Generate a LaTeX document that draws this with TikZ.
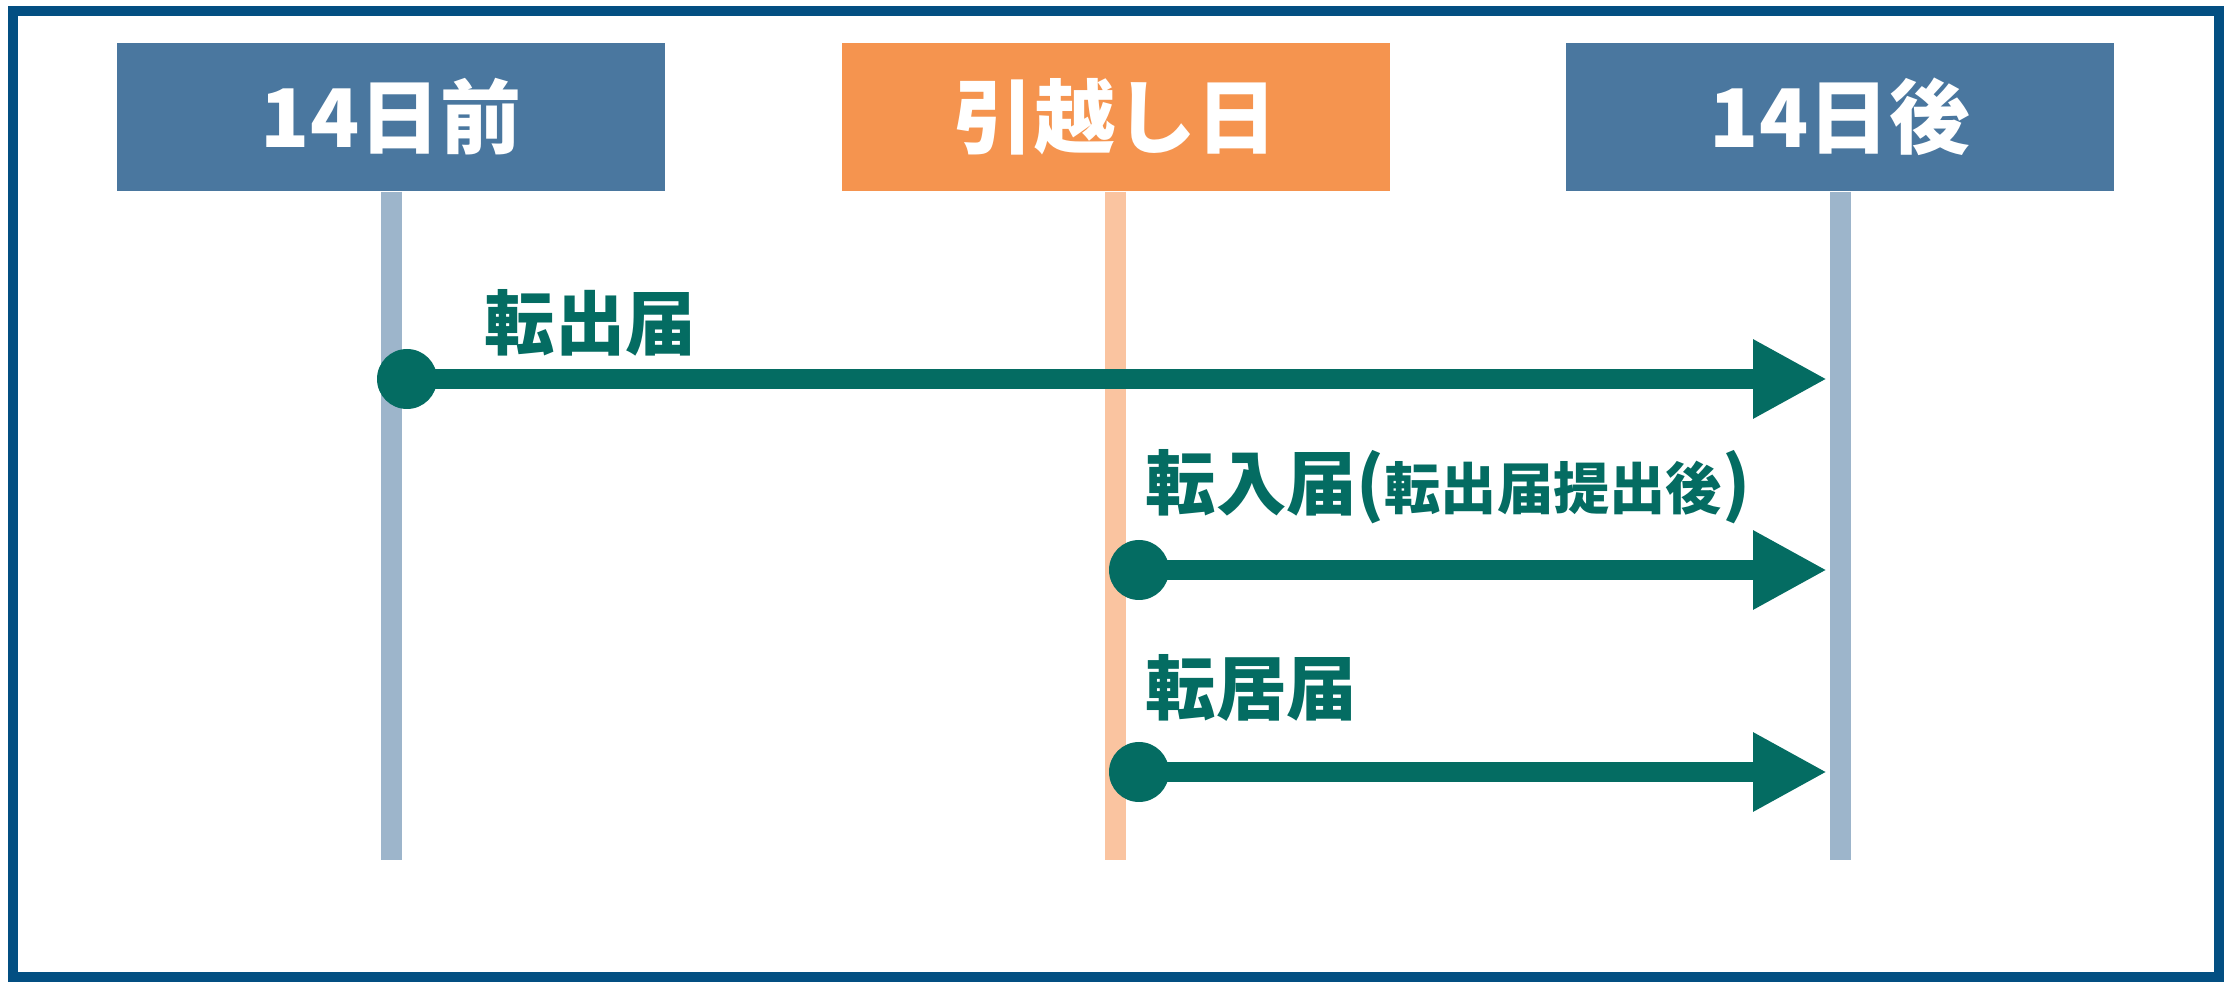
\documentclass[tikz,border=0pt]{standalone}
\usepackage{fontspec}
\usepackage{xcolor}
\usepackage{tikz}
\usetikzlibrary{arrows.meta}
\newfontfamily\jpfont{Noto Sans CJK JP}
\definecolor{frameblue}{HTML}{034F82}
\definecolor{headblue}{HTML}{4A779F}
\definecolor{headorange}{HTML}{F5944F}
\definecolor{lineblue}{HTML}{9DB5CB}
\definecolor{lineorange}{HTML}{FAC4A0}
\definecolor{docteal}{HTML}{046C62}
\tikzstyle{head box}=[minimum width=5.48cm, minimum height=1.48cm, inner sep=0, text=white, font=\jpfont\bfseries\fontsize{23}{23}\selectfont]
\tikzstyle{life line}=[line width=0.21cm]
\tikzstyle{basic arrow}=[draw=docteal, line width=0.2cm, -{Triangle[length=0.74cm, width=0.74cm]}]
\tikzstyle{dot}=[circle, fill=docteal, minimum size=0.6cm, inner sep=0]
\tikzstyle{doc text}=[anchor=west, inner sep=0, text=docteal, font=\jpfont\bfseries\fontsize{20}{20}\selectfont]

\begin{document}
\begin{tikzpicture}
		\useasboundingbox (0, 0) rectangle (22.34, -9.88);
		\draw [draw=frameblue, line width=0.1cm] (0.13, -0.11) rectangle (22.19, -9.77);

		\node [head box, fill=headblue]   (0) at (3.91, -1.17) {14日前};
		\node [head box, fill=headorange] (1) at (11.155, -1.17) {引越し日};
		\node [head box, fill=headblue]   (2) at (18.40, -1.17) {14日後};

		\coordinate (0e) at (3.91, -8.60);
		\coordinate (1e) at (11.155, -8.60);
		\coordinate (2e) at (18.40, -8.60);
		\draw [style=life line, draw=lineblue] (0.south) -- (0e);
		\draw [style=life line, draw=lineorange] (1.south) -- (1e);
		\draw [style=life line, draw=lineblue] (2.south) -- (2e);

		\node [dot] (3) at (4.07, -3.79) {};
		\node [dot] (4) at (11.39, -5.70) {};
		\node [dot] (5) at (11.39, -7.72) {};
		\coordinate (3e) at (18.27, -3.79);
		\coordinate (4e) at (18.27, -5.70);
		\coordinate (5e) at (18.27, -7.72);

		\draw [style=basic arrow] (3.center) -- (3e);
		\draw [style=basic arrow] (4.center) -- (4e);
		\draw [style=basic arrow] (5.center) -- (5e);

		\node [doc text] (6) at (4.84, -3.23) {転出届};
		\node [doc text] (7) at (11.45, -4.87) {転入届({\fontsize{16}{16}\selectfont 転出届提出後})};
		\node [doc text] (8) at (11.45, -6.88) {転居届};
\end{tikzpicture}
\end{document}
